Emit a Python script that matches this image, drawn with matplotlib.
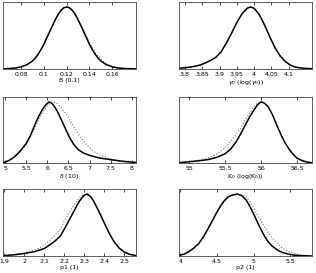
import numpy as np
import matplotlib.pyplot as plt

# values (y as fraction of peak height)
b_x = [0.065, 0.07, 0.075, 0.08, 0.085, 0.09, 0.0925, 0.095, 0.0975, 0.1,
       0.1025, 0.105, 0.1075, 0.11, 0.1125, 0.115, 0.1175, 0.12, 0.1225, 0.125,
       0.1275, 0.13, 0.1325, 0.135, 0.1375, 0.14, 0.1425, 0.145, 0.1475, 0.15,
       0.155, 0.16, 0.165, 0.17, 0.181]
b_post = [0.004, 0.008, 0.016, 0.035, 0.068, 0.13, 0.178, 0.24, 0.315, 0.40,
          0.50, 0.60, 0.70, 0.795, 0.88, 0.945, 0.986, 1.0, 0.986, 0.945,
          0.88, 0.795, 0.70, 0.60, 0.50, 0.40, 0.315, 0.24, 0.178, 0.13,
          0.068, 0.035, 0.016, 0.008, 0.002]
b_prior = [0.004, 0.008, 0.016, 0.035, 0.068, 0.13, 0.178, 0.24, 0.315, 0.40,
           0.50, 0.60, 0.70, 0.795, 0.88, 0.945, 0.986, 1.0, 0.988, 0.95,
           0.89, 0.81, 0.72, 0.63, 0.53, 0.43, 0.345, 0.27, 0.21, 0.16,
           0.09, 0.048, 0.024, 0.012, 0.003]

g_x = [3.783, 3.8, 3.815, 3.83, 3.845, 3.86, 3.875, 3.89, 3.905, 3.92,
       3.935, 3.95, 3.965, 3.98, 3.99, 4.0, 4.015, 4.03, 4.045, 4.06,
       4.075, 4.09, 4.105, 4.12, 4.14, 4.167]
g_post = [0.012, 0.02, 0.03, 0.045, 0.065, 0.10, 0.14, 0.19, 0.28, 0.42,
          0.58, 0.75, 0.89, 0.98, 1.0, 0.978, 0.875, 0.71, 0.52, 0.345,
          0.21, 0.12, 0.06, 0.03, 0.012, 0.004]
g_prior = g_post

d_x = [4.95, 5.0, 5.1, 5.22, 5.35, 5.5, 5.6, 5.72, 5.8, 5.88,
       5.96, 6.04, 6.12, 6.19, 6.27, 6.35, 6.45, 6.54, 6.63, 6.73,
       6.85, 7.02, 7.25, 7.5, 7.75, 8.03, 8.1]
d_post = [0.005, 0.015, 0.045, 0.10, 0.19, 0.32, 0.45, 0.65, 0.77, 0.87,
          0.95, 1.0, 0.97, 0.90, 0.80, 0.68, 0.53, 0.40, 0.30, 0.22,
          0.165, 0.12, 0.08, 0.055, 0.03, 0.012, 0.01]
d_px = [4.95, 5.0, 5.1, 5.22, 5.35, 5.5, 5.6, 5.72, 5.8, 5.9,
        6.0, 6.08, 6.15, 6.22, 6.3, 6.4, 6.5, 6.62, 6.75, 6.87,
        7.0, 7.12, 7.25, 7.5, 7.75, 8.03, 8.1]
d_prior = [0.005, 0.015, 0.04, 0.09, 0.17, 0.30, 0.42, 0.60, 0.72, 0.84,
           0.94, 0.985, 1.0, 0.98, 0.93, 0.84, 0.74, 0.60, 0.46, 0.35,
           0.25, 0.18, 0.13, 0.07, 0.035, 0.015, 0.012]

k_x = [54.86, 55.0, 55.13, 55.26, 55.38, 55.5, 55.58, 55.65, 55.72, 55.79,
       55.85, 55.9, 55.95, 56.0, 56.05, 56.1, 56.16, 56.22, 56.28, 56.33,
       56.4, 56.45, 56.5, 56.57, 56.64, 56.71]
k_post = [0.005, 0.02, 0.035, 0.055, 0.09, 0.15, 0.23, 0.34, 0.48, 0.64,
          0.77, 0.86, 0.95, 1.0, 0.98, 0.92, 0.79, 0.62, 0.46, 0.34,
          0.21, 0.14, 0.08, 0.04, 0.015, 0.005]
k_prior = [0.006, 0.025, 0.045, 0.08, 0.14, 0.25, 0.35, 0.45, 0.58, 0.72,
           0.83, 0.92, 0.98, 0.995, 0.98, 0.92, 0.79, 0.62, 0.46, 0.34,
           0.21, 0.14, 0.08, 0.04, 0.015, 0.005]

p1_x = [1.893, 1.95, 2.0, 2.05, 2.1, 2.15, 2.18, 2.2, 2.225, 2.25,
        2.275, 2.3, 2.315, 2.335, 2.35, 2.375, 2.4, 2.425, 2.45, 2.475,
        2.5, 2.53, 2.56]
p1_post = [0.005, 0.02, 0.04, 0.07, 0.12, 0.23, 0.32, 0.43, 0.58, 0.73,
           0.88, 0.98, 1.0, 0.95, 0.87, 0.71, 0.54, 0.37, 0.23, 0.13,
           0.065, 0.025, 0.008]
p1_prior = [0.005, 0.02, 0.05, 0.09, 0.17, 0.32, 0.43, 0.56, 0.70, 0.83,
            0.94, 0.99, 0.99, 0.95, 0.87, 0.71, 0.54, 0.37, 0.23, 0.13,
            0.065, 0.025, 0.008]

p2_x = [3.98, 4.05, 4.1, 4.175, 4.25, 4.325, 4.4, 4.45, 4.5, 4.55,
        4.6, 4.65, 4.7, 4.78, 4.84, 4.9, 4.95, 5.0, 5.05, 5.1,
        5.15, 5.2, 5.25, 5.3, 5.35, 5.4, 5.48, 5.55, 5.65, 5.8]
p2_post = [0.01, 0.03, 0.06, 0.12, 0.20, 0.33, 0.49, 0.60, 0.71, 0.81,
           0.89, 0.95, 0.98, 1.0, 0.97, 0.90, 0.80, 0.68, 0.555, 0.43,
           0.32, 0.23, 0.165, 0.12, 0.08, 0.055, 0.03, 0.015, 0.006, 0.0]
p2_prior = [0.01, 0.03, 0.06, 0.12, 0.20, 0.32, 0.48, 0.59, 0.70, 0.80,
            0.88, 0.94, 0.975, 0.995, 0.99, 0.95, 0.87, 0.78, 0.67, 0.57,
            0.47, 0.38, 0.30, 0.23, 0.17, 0.12, 0.07, 0.04, 0.015, 0.003]

panels = [
    (b_x, b_post, b_x, b_prior, (0.064, 0.181), [0.08, 0.1, 0.12, 0.14, 0.16],
     ['0.08', '0.1', '0.12', '0.14', '0.16'], 'B (0.1)'),
    (g_x, g_post, g_x, g_prior, (3.783, 4.167), [3.8, 3.85, 3.9, 3.95, 4, 4.05, 4.1],
     ['3.8', '3.85', '3.9', '3.95', '4', '4.05', '4.1'], r'$\gamma_0$ (log($\gamma_0$))'),
    (d_x, d_post, d_px, d_prior, (4.95, 8.1), [5, 5.5, 6, 6.5, 7, 7.5, 8],
     ['5', '5.5', '6', '6.5', '7', '7.5', '8'], r'$\delta$ (10)'),
    (k_x, k_post, k_x, k_prior, (54.86, 56.71), [55, 55.5, 56, 56.5],
     ['55', '55.5', '56', '56.5'], r'K$_0$ (log(K$_0$))'),
    (p1_x, p1_post, p1_x, p1_prior, (1.893, 2.56), [1.9, 2, 2.1, 2.2, 2.3, 2.4, 2.5],
     ['1.9', '2', '2.1', '2.2', '2.3', '2.4', '2.5'], 'p1 (1)'),
    (p2_x, p2_post, p2_x, p2_prior, (3.98, 5.8), [4, 4.5, 5, 5.5],
     ['4', '4.5', '5', '5.5'], 'p2 (1)'),
]

fig = plt.figure(figsize=(3.16, 2.73), dpi=100)

lefts = [3 / 316, 179 / 316]
rows = [(2, 69), (97, 163), (189, 256)]

for i, (px, post, qx, prior, xlim, ticks, labels, xlabel) in enumerate(panels):
    top, bot = rows[i // 2]
    ax = fig.add_axes([lefts[i % 2], 1 - bot / 273, 133 / 316, (bot - top) / 273])
    ax.plot(qx, prior, color='#777777', linestyle=':', linewidth=0.8)
    ax.plot(px, post, color='black', linewidth=1.1)
    ax.set_xlim(*xlim)
    ax.set_ylim(0, 1.08)
    ax.set_yticks([])
    ax.set_xticks(ticks)
    ax.set_xticklabels(labels)
    ax.tick_params(axis='x', direction='in', top=True, length=2, width=0.5,
                   labelsize=4.5, pad=2)
    ax.set_xlabel(xlabel, fontsize=4.5, labelpad=1)
    for s in ax.spines.values():
        s.set_linewidth(0.6)
        s.set_color('#444444')

fig.savefig('out.png', dpi=100)
